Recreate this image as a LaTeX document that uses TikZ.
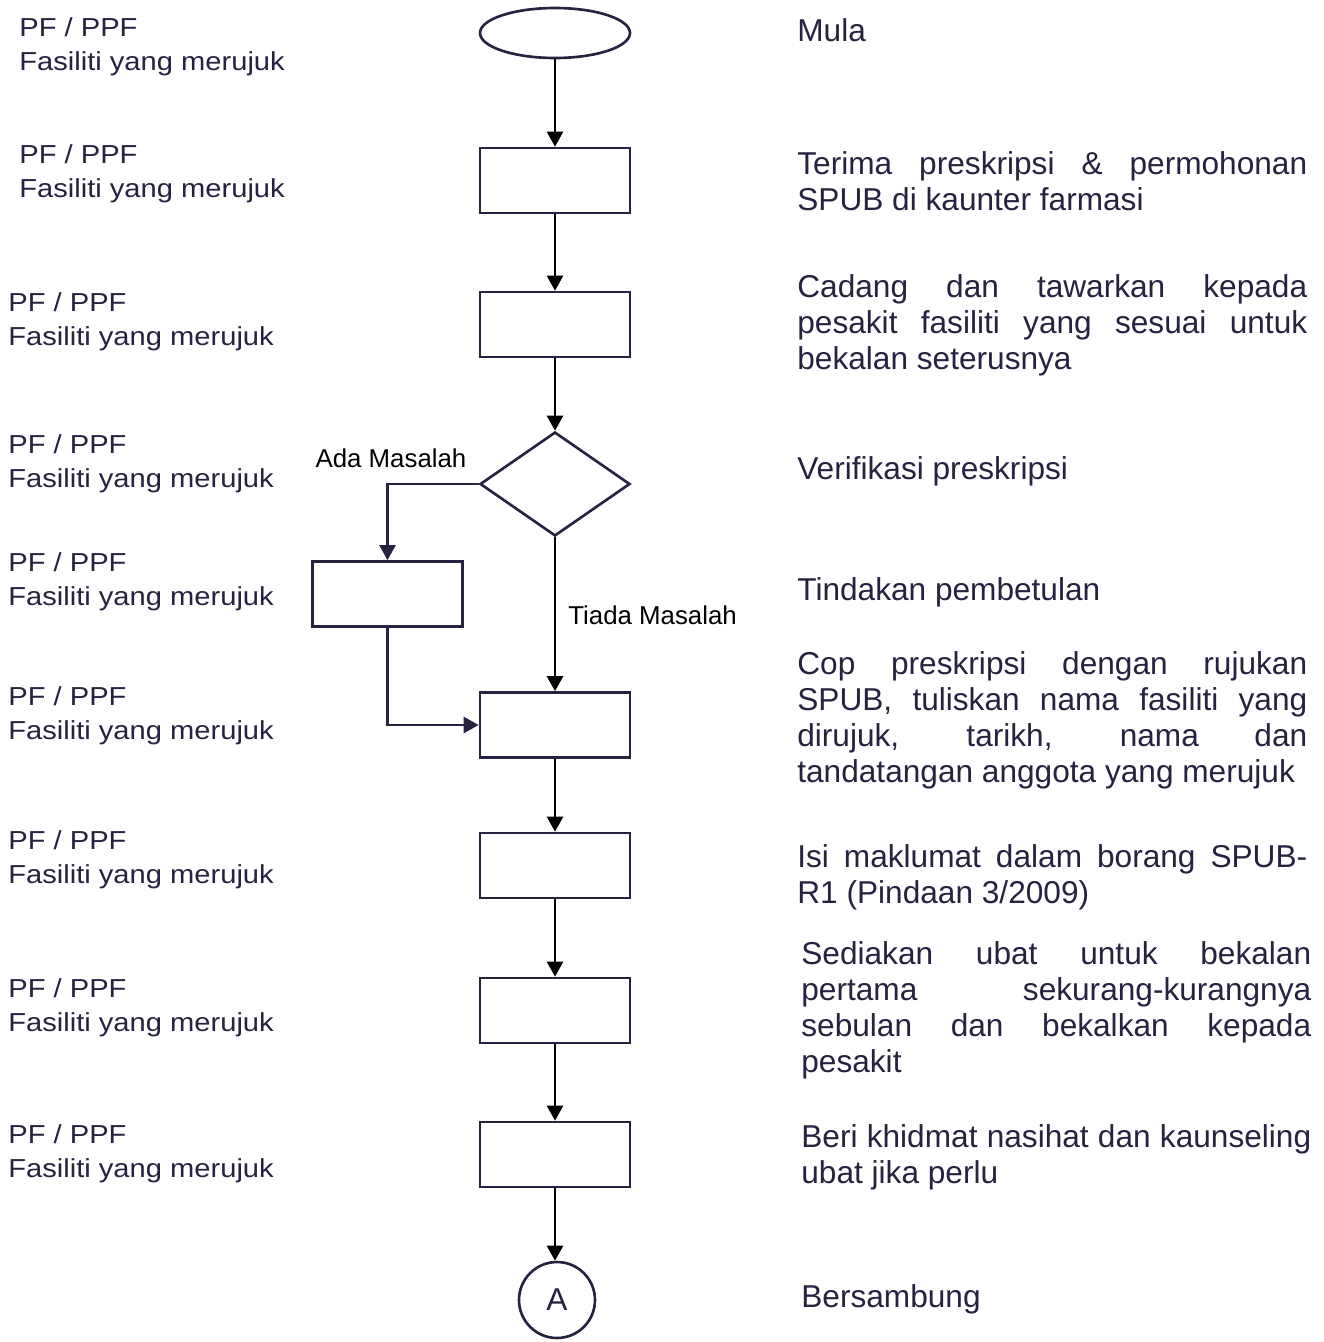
\documentclass[tikz,border=0pt]{standalone}
\usepackage{fontspec}
\setmainfont{Liberation Sans}
\newfontfamily\rolefont[FakeStretch=1.12]{Liberation Sans}
\usetikzlibrary{shapes.geometric,arrows.meta,positioning}
\definecolor{sopnavy}{HTML}{26223F}
\newlength{\descw}
\setlength{\descw}{10.2cm}
\newcommand{\jline}[1]{\makebox[\descw][s]{#1}}
\tikzset{
  startstop/.style={ellipse, draw=sopnavy, line width=1.5pt, minimum width=3cm, minimum height=1cm, inner sep=0pt},
  process/.style={rectangle, draw=sopnavy, line width=1.5pt, minimum width=3cm, minimum height=1.3cm, inner sep=0pt},
  decision/.style={diamond, draw=sopnavy, line width=1.5pt, minimum width=3cm, minimum height=2.08cm, inner sep=0pt},
  connector/.style={circle, draw=sopnavy, line width=1.5pt, minimum size=1.52cm, inner sep=0pt, text=sopnavy, font=\fontsize{18}{20}\selectfont},
  role/.style={anchor=base west, inner sep=0pt, align=left, text=sopnavy, font=\rolefont\fontsize{14.8}{19.3}\selectfont},
  desc/.style={anchor=base west, inner sep=0pt, align=left, text=sopnavy, font=\fontsize{18}{20.4}\selectfont},
  branch/.style={inner sep=0pt, font=\fontsize{14.7}{17}\selectfont},
  flow/.style={line width=1.4pt, -{Triangle[length=0.3cm,width=0.32cm]}},
  altflow/.style={flow, draw=sopnavy},
}
\begin{document}
\begin{tikzpicture}[x=0.02cm, y=-0.02cm]
  \useasboundingbox (0,0) rectangle (1323,1342);
  % flow chart
  \node[startstop] (start) at (555,33) {};
  \node[process] (recv) at (555,180.5) {};
  \node[process] (offer) at (555,324.5) {};
  \node[decision] (verify) at (555,484) {};
  \node[process] (fix) at (387.5,594) {};
  \node[process] (stamp) at (555,725) {};
  \node[process] (form) at (555,865.5) {};
  \node[process] (supply) at (555,1010.5) {};
  \node[process] (advise) at (555,1154.5) {};
  \node[connector] (cont) at (557,1300) {A};
  \node[branch, anchor=base] (ada) at (391,467) {Ada Masalah};
  \node[branch, anchor=base west] (tiada) at (568,624) {Tiada Masalah};
  \draw[flow] (start)--(recv);
  \draw[flow] (recv)--(offer);
  \draw[flow] (offer)--(verify);
  \draw[altflow] (verify.west)-|(fix.north);
  \draw[flow] (verify)--(stamp);
  \draw[altflow] (fix.south)|-(stamp.west);
  \draw[flow] (stamp)--(form);
  \draw[flow] (form)--(supply);
  \draw[flow] (supply)--(advise);
  \draw[flow] (advise.south)--(cont.north-|advise.south);
  % who does it
  \node[role] (r1) at (19,70) {PF / PPF\\Fasiliti yang merujuk};
  \node[role] (r2) at (19,197) {PF / PPF\\Fasiliti yang merujuk};
  \node[role] (r3) at (8,345) {PF / PPF\\Fasiliti yang merujuk};
  \node[role] (r4) at (8,487) {PF / PPF\\Fasiliti yang merujuk};
  \node[role] (r5) at (8,605) {PF / PPF\\Fasiliti yang merujuk};
  \node[role] (r6) at (8,739) {PF / PPF\\Fasiliti yang merujuk};
  \node[role] (r7) at (8,883) {PF / PPF\\Fasiliti yang merujuk};
  \node[role] (r8) at (8,1031) {PF / PPF\\Fasiliti yang merujuk};
  \node[role] (r9) at (8,1177) {PF / PPF\\Fasiliti yang merujuk};
  % what is done
  \node[desc] (d1) at (797,41) {Mula};
  \node[desc] (d2) at (797,210) {\jline{Terima preskripsi \& permohonan}\\SPUB di kaunter farmasi};
  \node[desc] (d3) at (797,369) {\jline{Cadang dan tawarkan kepada}\\\jline{pesakit fasiliti yang sesuai untuk}\\bekalan seterusnya};
  \node[desc] (d4) at (797,479) {Verifikasi preskripsi};
  \node[desc] (d5) at (797,600) {Tindakan pembetulan};
  \node[desc] (d6) at (797,782) {\jline{Cop preskripsi dengan rujukan}\\\jline{SPUB, tuliskan nama fasiliti yang}\\\jline{dirujuk, tarikh, nama dan}\\tandatangan anggota yang merujuk};
  \node[desc] (d7) at (797,903) {\jline{Isi maklumat dalam borang SPUB-}\\R1 (Pindaan 3/2009)};
  \node[desc] (d8) at (801,1072) {\jline{Sediakan ubat untuk bekalan}\\\jline{pertama sekurang-kurangnya}\\\jline{sebulan dan bekalkan kepada}\\pesakit};
  \node[desc] (d9) at (801,1183) {\jline{Beri khidmat nasihat dan kaunseling}\\ubat jika perlu};
  \node[desc] (d10) at (801,1307) {Bersambung};
\end{tikzpicture}
\end{document}
